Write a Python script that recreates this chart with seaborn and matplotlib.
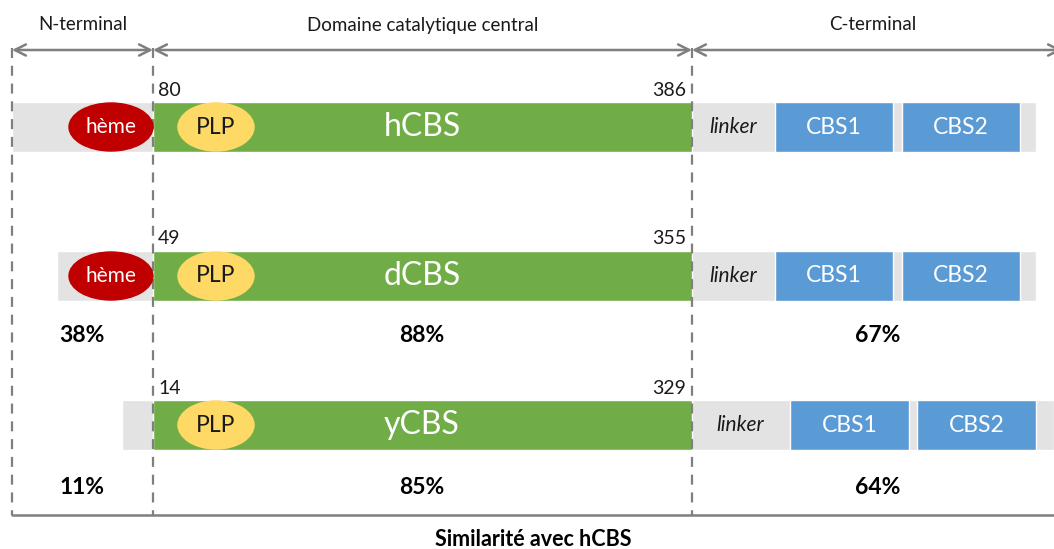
import matplotlib.pyplot as plt
import seaborn as sns
from matplotlib.patches import Ellipse

# domain regions (x positions in drawing units)
regions = ["N-terminal", "Domaine catalytique central", "C-terminal"]
region_edges = [12, 153, 692, 1054]

# proteins
proteins = ["hCBS", "dCBS", "yCBS"]
row_y = [127, 276, 425]
gray_start = [12, 57, 122]
gray_end = [1036, 1036, 1054]
cat_start = [153, 153, 153]
cat_end = [692, 692, 692]
res_start = ["80", "49", "14"]
res_end = ["386", "355", "329"]
has_heme = [True, True, False]
cbs1 = [(775, 893), (775, 893), (790, 909)]
cbs2 = [(902, 1020), (902, 1020), (917, 1036)]
linker_x = [733, 733, 740]

# similarity with hCBS
sim_y = [336, 487]
sim_n = ["38%", "11%"]
sim_cat = ["88%", "85%"]
sim_c = ["67%", "64%"]

sns.set_theme(style="white")
plt.rcParams['font.family'] = ['Lato', 'DejaVu Sans']

fig, ax = plt.subplots(figsize=(10.54, 5.49), dpi=100)
fig.subplots_adjust(0, 0, 1, 1)
ax.set_xlim(0, 1054)
ax.set_ylim(549, 0)
ax.axis("off")

line_gray = "#7f7f7f"
txt = "#1a1a1a"
bar_h = 50

# region headers with double arrows
for i, name in enumerate(regions):
    x0, x1 = region_edges[i], region_edges[i + 1]
    ax.annotate("", xy=(x0, 50), xytext=(x1 + (8 if i == 2 else 0), 50),
                arrowprops=dict(arrowstyle="<->", color=line_gray, lw=1.8,
                                shrinkA=0, shrinkB=0, mutation_scale=20))
    ax.text((x0 + x1) / 2, 25, name, ha="center", va="center", fontsize=13.5,
            color=txt)

# dashed separators and bottom line
for x in region_edges[:3]:
    ax.plot([x, x], [48, 515], ls=(0, (4.5, 3.5)), color=line_gray, lw=1.6)
ax.plot([12, 1054], [515, 515], color=line_gray, lw=1.8)

for i, name in enumerate(proteins):
    y = row_y[i]
    ax.barh(y, gray_end[i] - gray_start[i], left=gray_start[i], height=bar_h,
            color="#e3e3e3")
    ax.barh(y, cat_end[i] - cat_start[i], left=cat_start[i], height=bar_h,
            color="#70ad47")
    for (a, b), lab in [(cbs1[i], "CBS1"), (cbs2[i], "CBS2")]:
        ax.barh(y, b - a, left=a, height=bar_h, color="#5b9bd5")
        ax.text((a + b) / 2, y, lab, ha="center", va="center", fontsize=16.5,
                color="white")
    ax.text(linker_x[i], y, "linker", ha="center", va="center", fontsize=15,
            style="italic", color=txt)
    if has_heme[i]:
        ax.add_patch(Ellipse((111, y), 84, 48, color="#c00000", zorder=3))
        ax.text(111, y, "hème", ha="center", va="center", fontsize=15,
                color="white", zorder=4)
    ax.add_patch(Ellipse((216, y), 76, 48, color="#ffd966", zorder=3))
    ax.text(216, y, "PLP", ha="center", va="center", fontsize=16.5,
            color=txt, zorder=4)
    ax.text(422, y, name, ha="center", va="center", fontsize=23, color="white")
    ax.text(158, y - 37, res_start[i], ha="left", va="center", fontsize=14,
            color=txt)
    ax.text(686, y - 37, res_end[i], ha="right", va="center", fontsize=14,
            color=txt)

for j, y in enumerate(sim_y):
    ax.text(82, y, sim_n[j], ha="center", va="center", fontsize=16.5,
            weight="bold", color="black")
    ax.text(422, y, sim_cat[j], ha="center", va="center", fontsize=16.5,
            weight="bold", color="black")
    ax.text(878, y, sim_c[j], ha="center", va="center", fontsize=16.5,
            weight="bold", color="black")

ax.text(533, 540, "Similarité avec hCBS", ha="center", va="center",
        fontsize=15.5, weight="bold", color="black")

fig.savefig("out.png", dpi=100)
